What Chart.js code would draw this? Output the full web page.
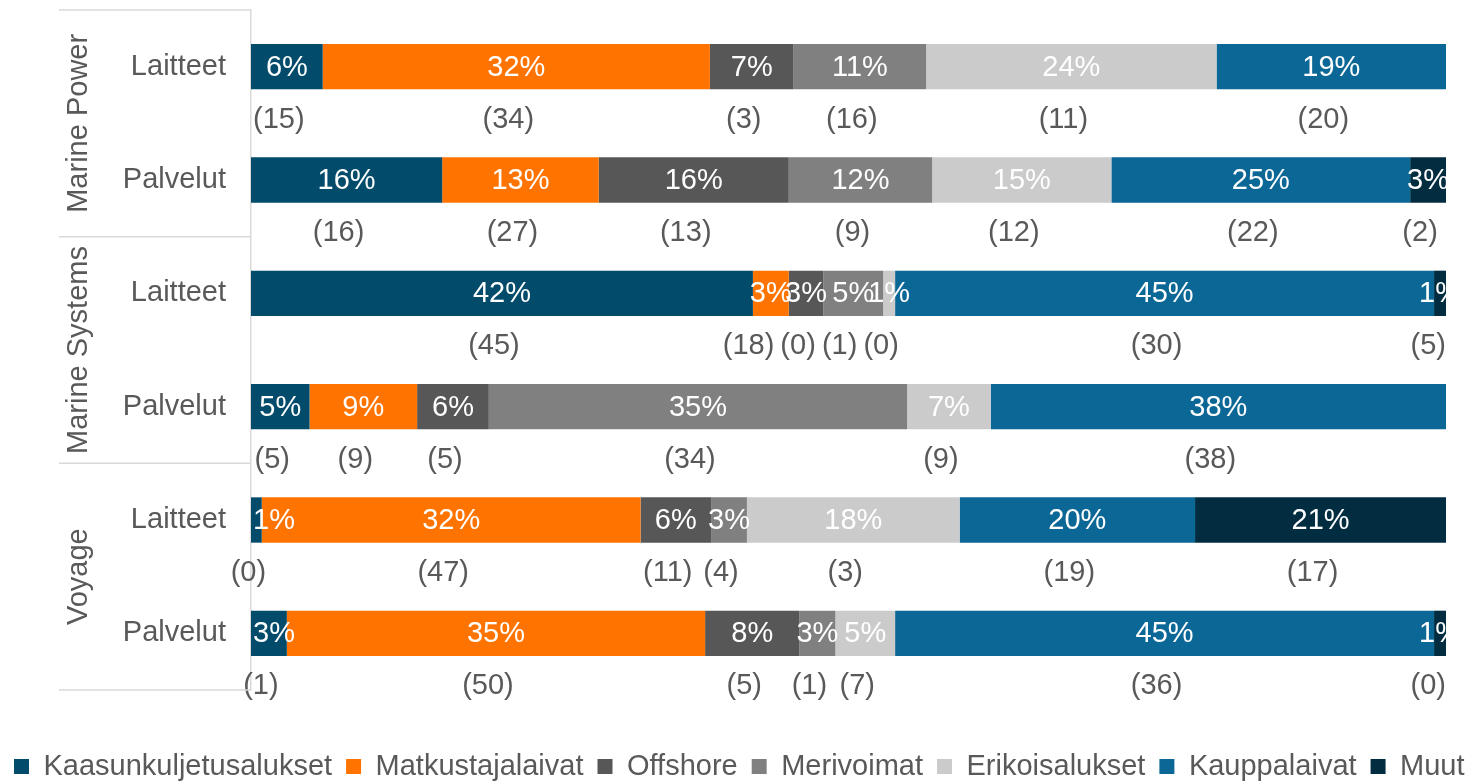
<!DOCTYPE html>
<html>
<head>
<meta charset="utf-8">
<script src="https://cdn.jsdelivr.net/npm/chart.js@4.4.1/dist/chart.umd.min.js"></script>
<style>
  html, body { margin: 0; padding: 0; background: #ffffff; overflow: hidden; }
  #c { display: block; }
</style>
</head>
<body>
<canvas id="c" width="1468" height="781"></canvas>
<script>
// ---- Data ----
const categories = ['Laitteet', 'Palvelut', 'Laitteet', 'Palvelut', 'Laitteet', 'Palvelut'];
const groups = ['Marine Power', 'Marine Systems', 'Voyage'];
const seriesNames = ['Kaasunkuljetusalukset', 'Matkustajalaivat', 'Offshore', 'Merivoimat', 'Erikoisalukset', 'Kauppalaivat', 'Muut'];

// share of orders, % (current period)
const kaasunkuljetusalukset = [6.0, 16.0, 42.0, 4.9, 0.9, 3.0];
const matkustajalaivat      = [32.4, 13.1, 3.0, 9.0, 31.7, 35.0];
const offshore              = [7.0, 15.9, 2.9, 6.0, 5.9, 7.9];
const merivoimat            = [11.1, 12.0, 5.0, 35.0, 3.0, 3.0];
const erikoisalukset        = [24.3, 15.0, 1.0, 7.0, 17.8, 5.0];
const kauppalaivat          = [19.2, 25.0, 45.1, 38.1, 19.7, 45.1];
const muut                  = [0, 3.0, 1.0, 0, 21.0, 1.0];

// comparison period, % (shown in parentheses)
const kaasunkuljetusaluksetPrev = [15, 16, 45, 5, 0, 1];
const matkustajalaivatPrev      = [34, 27, 18, 9, 47, 50];
const offshorePrev              = [3, 13, 0, 5, 11, 5];
const merivoimatPrev            = [16, 9, 1, 34, 4, 1];
const erikoisaluksetPrev        = [11, 12, 0, 9, 3, 7];
const kauppalaivatPrev          = [20, 22, 30, 38, 19, 36];
const muutPrev                  = [null, 2, 5, null, 17, 0];

const seriesValues = [kaasunkuljetusalukset, matkustajalaivat, offshore, merivoimat, erikoisalukset, kauppalaivat, muut];
const seriesPrev = [kaasunkuljetusaluksetPrev, matkustajalaivatPrev, offshorePrev, merivoimatPrev, erikoisaluksetPrev, kauppalaivatPrev, muutPrev];
const seriesColors = ['#024b6b', '#ff7400', '#575757', '#808080', '#cbcbcb', '#0b6795', '#022c40'];

// ---- Styling constants ----
const FONT = "'Liberation Sans', Arial, Helvetica, sans-serif";
const FS = 29;
const TEXT_GREY = '#595959';
const LINE_GREY = '#d9d9d9';
const LEGEND_PAD = 14;

Chart.defaults.font.family = FONT;
Chart.defaults.font.size = FS;
Chart.defaults.color = TEXT_GREY;

const labelPlugin = {
  id: 'segmentLabels',
  afterDatasetsDraw(chart) {
    const ctx = chart.ctx;
    const area = chart.chartArea;
    ctx.save();
    ctx.font = FS + 'px ' + FONT;
    ctx.textAlign = 'center';
    ctx.textBaseline = 'middle';
    const rows = categories.map(() => []);
    chart.data.datasets.forEach((ds, di) => {
      const meta = chart.getDatasetMeta(di);
      meta.data.forEach((bar, i) => {
        const p = bar.getProps(['x', 'y', 'base'], true);
        const cx = (p.x + p.base) / 2;
        const v = ds.data[i];
        if (v > 0) {
          const txt = Math.round(v) + '%';
          const w = ctx.measureText(txt).width;
          let tx = cx;
          if (tx - w / 2 < area.left + 2) tx = area.left + 2 + w / 2;
          ctx.save();
          ctx.beginPath();
          ctx.rect(area.left, area.top, area.right - area.left, area.bottom - area.top);
          ctx.clip();
          ctx.fillStyle = '#ffffff';
          ctx.fillText(txt, tx, p.y + 1);
          ctx.restore();
        }
        const pv = seriesPrev[di][i];
        if (pv !== null && pv !== undefined) {
          const t2 = '(' + pv + ')';
          const w2 = ctx.measureText(t2).width;
          let x2 = cx - 8;
          if (x2 + w2 / 2 > area.right) x2 = area.right - w2 / 2;
          rows[i].push({ t: t2, x: x2, w: w2, y: p.y + 53 });
        }
      });
    });
    // keep the comparison labels of one bar from overlapping
    ctx.fillStyle = TEXT_GREY;
    rows.forEach(r => {
      for (let k = r.length - 2; k >= 0; k--) {
        const maxRight = r[k + 1].x - r[k + 1].w / 2 - 6;
        if (r[k].x + r[k].w / 2 > maxRight) r[k].x = maxRight - r[k].w / 2;
      }
      r.forEach(l => ctx.fillText(l.t, l.x, l.y));
    });
    ctx.restore();
  }
};

const groupPlugin = {
  id: 'groupAxis',
  afterDraw(chart) {
    const ctx = chart.ctx;
    const area = chart.chartArea;
    const y = chart.scales.y;
    const bounds = [area.top];
    for (let g = 1; g < groups.length; g++) {
      bounds.push((y.getPixelForValue(g * 2 - 1) + y.getPixelForValue(g * 2)) / 2);
    }
    bounds.push(area.bottom);
    ctx.save();
    ctx.strokeStyle = LINE_GREY;
    ctx.lineWidth = 1.5;
    bounds.forEach(b => {
      ctx.beginPath();
      ctx.moveTo(59, b);
      ctx.lineTo(area.left, b);
      ctx.stroke();
    });
    ctx.fillStyle = TEXT_GREY;
    ctx.font = FS + 'px ' + FONT;
    ctx.textAlign = 'center';
    ctx.textBaseline = 'middle';
    groups.forEach((g, gi) => {
      const cy = (bounds[gi] + bounds[gi + 1]) / 2;
      ctx.save();
      ctx.translate(79, cy);
      ctx.rotate(-Math.PI / 2);
      ctx.fillText(g, 0, 0);
      ctx.restore();
    });
    ctx.restore();
  }
};

// legend keeps a single row (the reference legend runs to the right edge)
const singleRowLegend = {
  id: 'singleRowLegend',
  afterInit(chart) {
    const lg = chart.legend;
    if (!lg || lg.__singleRow) return;
    lg.__singleRow = true;
    const fit = lg.fit;
    lg.fit = function () {
      const mw = this.maxWidth;
      this.maxWidth = 100000;
      fit.apply(this, arguments);
      this.maxWidth = mw;
      this.width = mw;
    };
    const draw = lg.draw;
    lg.draw = function () {
      const r = this.right;
      this.right = 100000;
      draw.apply(this, arguments);
      this.right = r;
    };
  }
};

new Chart(document.getElementById('c'), {
  type: 'bar',
  data: {
    labels: categories,
    datasets: seriesNames.map((name, i) => ({
      label: name,
      data: seriesValues[i],
      backgroundColor: seriesColors[i],
      borderWidth: 0,
      categoryPercentage: 1.0,
      barPercentage: 0.4
    }))
  },
  options: {
    indexAxis: 'y',
    responsive: false,
    animation: false,
    layout: { padding: { left: 0, right: 22, top: 10, bottom: -10 } },
    scales: {
      x: {
        stacked: true,
        min: 0,
        max: 100,
        display: true,
        grid: { display: false },
        border: { display: false },
        ticks: { display: false },
        afterFit(scale) { scale.height = 62 - LEGEND_PAD; scale.paddingLeft = 0; scale.paddingRight = 0; }
      },
      y: {
        stacked: true,
        grid: { display: false, drawTicks: false },
        border: { display: true, color: LINE_GREY, width: 1.5 },
        ticks: { padding: 25, color: TEXT_GREY, font: { size: FS } },
        afterFit(scale) { scale.width = 251; scale.paddingTop = 0; scale.paddingBottom = 0; }
      }
    },
    plugins: {
      tooltip: { enabled: false },
      legend: {
        position: 'bottom',
        align: 'start',
        labels: {
          boxWidth: 15,
          boxHeight: 15,
          padding: LEGEND_PAD,
          color: TEXT_GREY,
          font: { size: FS }
        }
      }
    }
  },
  plugins: [labelPlugin, groupPlugin, singleRowLegend]
});
</script>
</body>
</html>
